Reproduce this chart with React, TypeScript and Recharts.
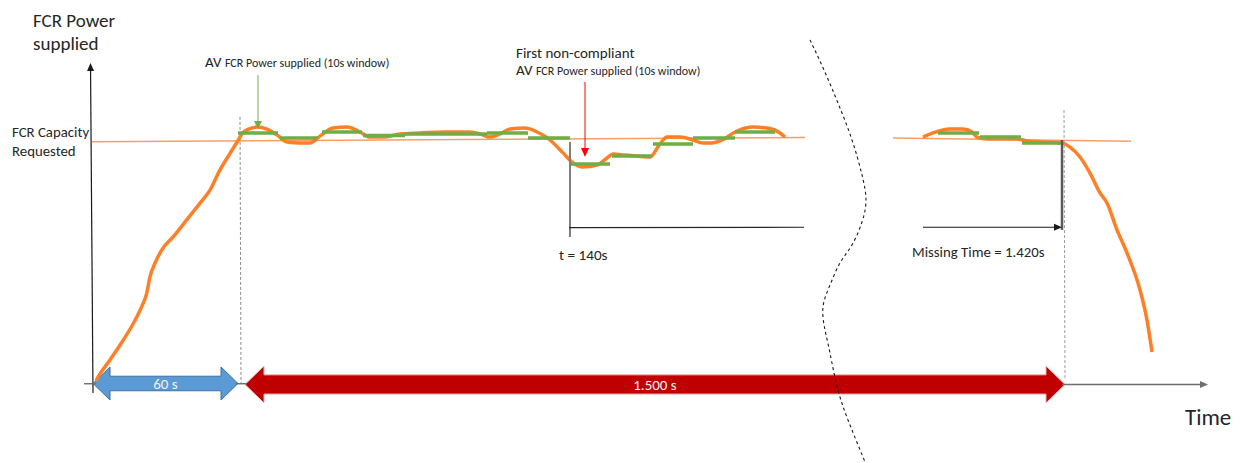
import React from 'react';
import { ComposedChart, Line, XAxis, YAxis, ReferenceLine, ReferenceArea, ReferenceDot } from 'recharts';

// Schematic chart: t = schematic time position, p = power in % of the FCR capacity requested
const orangeBefore: [number, number][] = [
  [96, 0.8], [98.3, 2.6], [110, 9.5], [123.3, 17.7], [133.3, 24.5], [141.7, 31.4], [146.7, 36.9], [150, 43.7],
  [155, 49.3], [161.7, 54.7], [173.3, 60.2], [186.7, 67.1], [200, 74.0], [210, 79.4], [220, 87.7],
  [230, 94.5], [238.3, 100.0], [242, 102.6], [248, 104.4], [257, 105.3], [267, 104.5], [277, 102.1],
  [287, 99.2], [300, 98.8], [310, 98.8],
  [320, 101.6], [333, 104.9], [347, 105.3], [360, 103.3], [370, 101.2], [383, 101.2], [400, 102.5], [420, 102.9],
  [445, 103.3], [470, 103.3], [480, 102.5], [490, 101.2], [500, 102.5], [510, 104.5], [525, 104.9], [535, 103.7],
  [550, 100.0], [563, 94.7], [572, 90.9], [583, 88.9], [597, 89.7], [607, 92.6], [613, 94.2], [625, 93.8],
  [650, 93.0], [660, 98.4], [667, 101.2], [680, 101.2], [693, 100.0], [703, 98.8], [712, 98.8], [722, 100.0],
  [737, 103.7], [753, 105.3], [767, 104.9], [780, 102.9], [785, 101.2],
];
const orangeAfter: [number, number][] = [
  [923, 101.2], [933, 102.9], [950, 104.5], [963, 104.5], [972, 103.3], [977, 101.2], [987, 100.4],
  [1017, 100.4], [1027, 99.6], [1062, 98.8], [1070, 97.1], [1080, 93.0], [1090, 86.4], [1100, 78.2],
  [1107, 74.1], [1117, 63.0], [1127, 53.5], [1140, 38.3], [1147, 25.9], [1152, 12.8],
];
// 10 s window averages: [start, end, average]
const windowAverages: [number, number, number][] = [
  [238, 278, 102.9], [280, 318, 100.8], [322, 362, 103.3], [363, 405, 101.9], [405, 445, 102.5],
  [445, 487, 102.5], [487, 528, 102.9], [528, 570, 100.8], [570, 610, 90.1], [612, 652, 93.4],
  [653, 693, 98.4], [693, 735, 100.8], [735, 775, 103.3],
  [938, 979, 102.9], [980, 1021, 101.2], [1022, 1062, 98.8],
];
const capacityBefore: [number, number][] = [[92, 99.3], [805, 101.0]];
const capacityAfter: [number, number][] = [[893, 100.8], [1131, 99.5]];
const axisBreak: [number, number][] = [
  [810, 141.2], [824, 128.8], [838, 115.2], [852, 100.0], [862, 85.6], [866, 75.3], [862, 66.3],
  [852, 56.8], [840, 49.4], [830, 40.3], [823, 31.3], [825, 21.8], [830, 12.3], [838, -2.9],
  [850, -17.3], [865, -32.5],
];
const spans = [
  { from: 93, to: 238, label: '60 s' },
  { from: 245, to: 1065, label: '1.500 s' },
];
const markers = { rampEnd: 240, firstNonCompliant: 570, failure: 1062 };

const toRows = (pts: [number, number][]) => pts.map(([t, p]) => ({ t, p }));
const greenRows = windowAverages.flatMap(([a, b, v]) => [
  { t: a, p: v }, { t: b, p: v }, { t: b + 0.5, p: null as any },
]);

const FONT = 'Carlito, Calibri, Lato, sans-serif';
const TXT = '#262626';

const arrowShape = (color: string, width: number, headLen = 0, headHalf = 0, dash?: string) => (props: any) => {
  const { x1, y1, x2, y2 } = props;
  const dx = x2 - x1, dy = y2 - y1;
  const len = Math.hypot(dx, dy) || 1;
  const ux = dx / len, uy = dy / len;
  const bx = x2 - ux * headLen, by = y2 - uy * headLen;
  const nx = -uy, ny = ux;
  return (
    <g>
      <line x1={x1} y1={y1} x2={headLen ? bx : x2} y2={headLen ? by : y2} stroke={color} strokeWidth={width} strokeDasharray={dash} />
      {headLen > 0 && (
        <polygon
          points={`${x2},${y2} ${bx + nx * headHalf},${by + ny * headHalf} ${bx - nx * headHalf},${by - ny * headHalf}`}
          fill={color}
        />
      )}
    </g>
  );
};

const doubleArrow = (fill: string, stroke: string, bodyRatio: number, headLen: number, label: string) => (props: any) => {
  const { x, y, width, height } = props;
  const cy = y + height / 2;
  const bh = (height * bodyRatio) / 2;
  const l = x, r = x + width;
  const pts = [
    [l, cy], [l + headLen, y], [l + headLen, cy - bh], [r - headLen, cy - bh], [r - headLen, y], [r, cy],
    [r - headLen, y + height], [r - headLen, cy + bh], [l + headLen, cy + bh], [l + headLen, y + height],
  ];
  return (
    <g>
      <polygon points={pts.map((p) => p.join(',')).join(' ')} fill={fill} stroke={stroke} strokeWidth={1} />
      <text x={(l + r) / 2} y={cy + 5.5} textAnchor="middle" fontFamily={FONT} fontSize={15} fill="#f2f2f2">{label}</text>
    </g>
  );
};

type Note = { t: number; p: number; parts: { s: string; size: number }[]; anchor?: string; fill?: string };
const notes: Note[] = [
  { t: 33, p: 146.5, parts: [{ s: 'FCR Power', size: 19 }] },
  { t: 33, p: 137.0, parts: [{ s: 'supplied', size: 19 }] },
  { t: 12, p: 101.2, parts: [{ s: 'FCR Capacity', size: 14.8 }] },
  { t: 12, p: 93.6, parts: [{ s: 'Requested', size: 14.8 }] },
  { t: 205, p: 130.0, parts: [{ s: 'AV ', size: 15 }, { s: 'FCR Power supplied (10s window)', size: 12 }] },
  { t: 516, p: 133.7, parts: [{ s: 'First non-compliant', size: 15 }] },
  { t: 516, p: 126.7, parts: [{ s: 'AV ', size: 15 }, { s: 'FCR Power supplied (10s window)', size: 12 }] },
  { t: 559, p: 50.6, parts: [{ s: 't = 140s', size: 15.2 }] },
  { t: 912, p: 52.0, parts: [{ s: 'Missing Time = 1.420s', size: 14.8 }] },
  { t: 1185, p: -17.3, parts: [{ s: 'Time', size: 23 }] },
];

const noteShape = (n: Note) => (props: any) => (
  <text x={props.cx} y={props.cy} fontFamily={FONT} fill={n.fill || TXT} textAnchor={(n.anchor as any) || 'start'}>
    {n.parts.map((pt, i) => (
      <tspan key={i} fontSize={pt.size}>{pt.s}</tspan>
    ))}
  </text>
);

const line = { dot: false as const, activeDot: false as const, isAnimationActive: false };

export default function App() {
  return (
    <div style={{ position: 'absolute', left: 0, top: 0, width: 1240, height: 463, background: '#fff' }}>
      <ComposedChart width={1240} height={463} margin={{ top: 0, right: 0, bottom: 0, left: 0 }}>
        <XAxis type="number" dataKey="t" domain={[0, 1240]} allowDataOverflow hide />
        <YAxis type="number" dataKey="p" domain={[-32.92, 157.61]} allowDataOverflow hide />

        {/* axes (time axis visible only where the duration arrows leave it free) */}
        <ReferenceLine ifOverflow="visible" segment={[{ x: 93, y: -4.1 }, { x: 90.5, y: 131.7 }]} shape={arrowShape('#1a1a1a', 1.2, 8, 3.5)} />
        <ReferenceLine ifOverflow="visible" segment={[{ x: 84, y: -0.3 }, { x: 96, y: -0.3 }]} shape={arrowShape('#6f6f6f', 1.4)} />
        <ReferenceLine ifOverflow="visible" segment={[{ x: 236, y: -0.3 }, { x: 247, y: -0.3 }]} shape={arrowShape('#6f6f6f', 1.4)} />
        <ReferenceLine ifOverflow="visible" segment={[{ x: 1062, y: -0.6 }, { x: 1208, y: -0.6 }]} shape={arrowShape('#6f6f6f', 1.4, 8, 3.5)} />

        {/* dashed markers */}
        <ReferenceLine ifOverflow="visible" segment={[{ x: markers.rampEnd, y: 109.5 }, { x: markers.rampEnd + 1, y: 0 }]} shape={arrowShape('#8c8c8c', 1, 0, 0, '3 2')} />
        <ReferenceLine ifOverflow="visible" segment={[{ x: markers.failure + 2, y: 112.3 }, { x: markers.failure + 3, y: 1.2 }]} shape={arrowShape('#9a9a9a', 1, 0, 0, '3 2')} />

        {/* capacity requested */}
        <Line data={toRows(capacityBefore)} dataKey="p" type="linear" stroke="#f4a066" strokeWidth={1.4} {...line} />
        <Line data={toRows(capacityAfter)} dataKey="p" type="linear" stroke="#f4a066" strokeWidth={1.4} {...line} />

        {/* supplied power */}
        <Line data={toRows(orangeBefore)} dataKey="p" type="monotone" stroke="#ff7f27" strokeWidth={3.5} {...line} />
        <Line data={toRows(orangeAfter)} dataKey="p" type="monotone" stroke="#ff7f27" strokeWidth={3.5} {...line} />

        {/* 10s averages */}
        <Line data={greenRows} dataKey="p" type="linear" stroke="#70ad47" strokeWidth={3.5} connectNulls={false} {...line} />

        {/* annotation arrows */}
        <ReferenceLine ifOverflow="visible" segment={[{ x: 258, y: 126.7 }, { x: 258, y: 104.5 }]} shape={arrowShape('#70ad47', 1, 8, 4)} />
        <ReferenceLine ifOverflow="visible" segment={[{ x: 585, y: 123.9 }, { x: 585, y: 93.0 }]} shape={arrowShape('#ff0000', 1, 9, 4)} />

        {/* t = 140s and missing time */}
        <ReferenceLine ifOverflow="visible" segment={[{ x: markers.firstNonCompliant, y: 99.2 }, { x: markers.firstNonCompliant, y: 60.1 }]} shape={arrowShape('#7f7f7f', 2)} />
        <ReferenceLine ifOverflow="visible" segment={[{ x: 569, y: 63.9 }, { x: 804, y: 64.1 }]} shape={arrowShape('#262626', 1.2)} />
        <ReferenceLine ifOverflow="visible" segment={[{ x: markers.failure, y: 100 }, { x: markers.failure, y: 63 }]} shape={arrowShape('#595959', 2.5)} />
        <ReferenceLine ifOverflow="visible" segment={[{ x: 923, y: 64.1 }, { x: markers.failure, y: 64.1 }]} shape={arrowShape('#1a1a1a', 1.2, 8, 3.5)} />

        {/* broken axis */}
        <Line data={toRows(axisBreak)} dataKey="p" type="natural" stroke="#1a1a1a" strokeWidth={1.1} strokeDasharray="3 3" {...line} />

        {/* duration arrows */}
        <ReferenceArea ifOverflow="visible" x1={spans[0].from} x2={spans[0].to} y1={6.6} y2={-7.0} shape={doubleArrow('#5b9bd5', '#41719c', 0.44, 17, spans[0].label)} />
        <ReferenceArea ifOverflow="visible" x1={spans[1].from} x2={spans[1].to} y1={7.0} y2={-8.2} shape={doubleArrow('#c00000', '#f3b4b4', 0.52, 19, spans[1].label)} />

        {/* texts */}
        {notes.map((n, i) => (
          <ReferenceDot key={i} ifOverflow="visible" x={n.t} y={n.p} r={0} shape={noteShape(n)} />
        ))}
      </ComposedChart>
    </div>
  );
}
